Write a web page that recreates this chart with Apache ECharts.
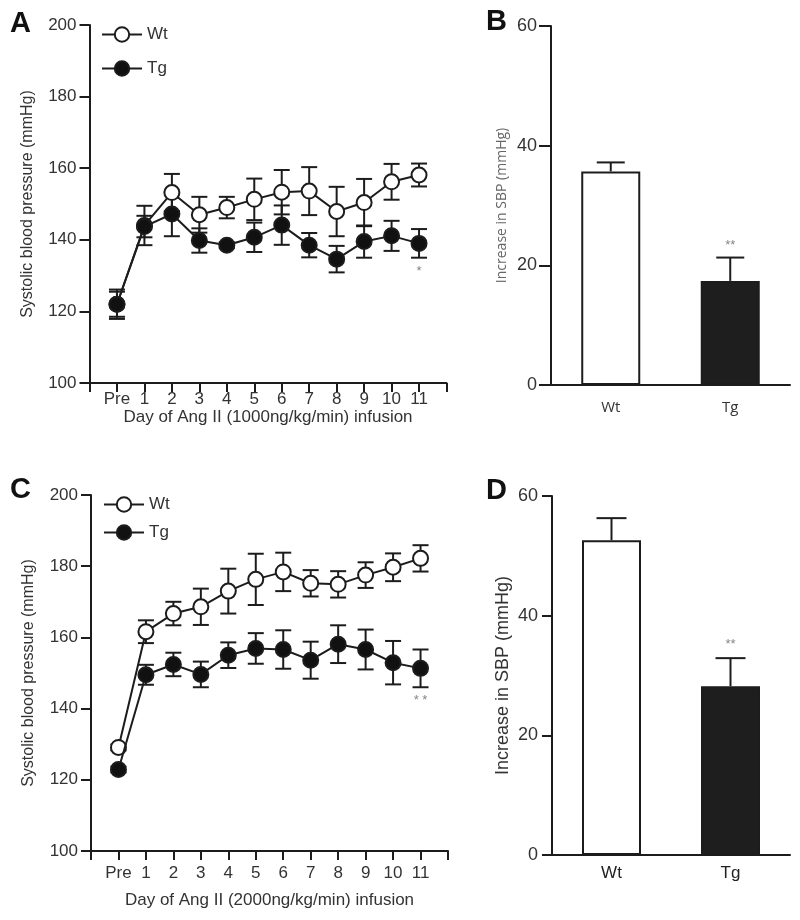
<!DOCTYPE html>
<html>
<head>
<meta charset="utf-8">
<script src="https://cdn.jsdelivr.net/npm/echarts@6/dist/echarts.min.js"></script>
<style>
html,body{margin:0;padding:0;background:#fff;}
#chart{width:800px;height:920px;}
</style>
</head>
<body>
<div id="chart"></div>
<script>
// ---- data ----
const days = ['Pre','1','2','3','4','5','6','7','8','9','10','11'];
const seriesNames = ['Wt','Tg'];

// Panel A (1000 ng/kg/min)
const wtA    = [122, 144, 153.2, 147, 149, 151.3, 153.3, 153.6, 147.9, 150.4, 156.2, 158.1];
const wtAErr = [3.5, 5.5, 5.2, 5, 3, 5.8, 6.2, 6.7, 6.9, 6.6, 5, 3.2];
const tgA    = [122, 143.7, 147.2, 139.8, 138.5, 140.7, 144.1, 138.5, 134.6, 139.5, 141.1, 139];
const tgAErr = [4.1, 3, 6.2, 3.4, 0.8, 4.1, 5.5, 3.4, 3.7, 4.5, 4.2, 4];
const starA  = [[11, 131.1, '*']];

// Panel C (2000 ng/kg/min)
const wtC    = [129.1, 161.6, 166.7, 168.6, 173, 176.3, 178.4, 175.2, 174.9, 177.5, 179.7, 182.2];
const wtCErr = [0.8, 3.2, 3.3, 5.1, 6.3, 7.2, 5.4, 3.7, 3.7, 3.6, 3.9, 3.7];
const tgC    = [122.9, 149.5, 152.4, 149.6, 155, 156.9, 156.6, 153.6, 158.1, 156.6, 152.9, 151.3];
const tgCErr = [0.8, 2.8, 3.3, 3.6, 3.6, 4.3, 5.4, 5.2, 5.3, 5.6, 6.1, 5.3];
const starC  = [[11, 142.2, '* *']];

// Panel B / D (increase in SBP)
const groups  = ['Wt','Tg'];
const incB    = [35.7, 17.4];
const incBErr = [1.5, 3.9];
const starB   = [[1, 23.4, '**']];
const incD    = [52.6, 28.2];
const incDErr = [3.7, 4.7];
const starD   = [[1, 35.2, '**']];

// ---- chart ----
const INK = '#1c1c1c';
const ARIAL = '"Liberation Sans", Arial, sans-serif';
const HUMAN = '"Open Sans", "Noto Sans", sans-serif';
const chart = echarts.init(document.getElementById('chart'), null, {renderer:'canvas'});

function pts(vals){ return vals.map((v,i)=>[i, v]); }
function errData(vals, errs){ return vals.map((v,i)=>[i, v, errs[i]]); }

function errSeries(idx, vals, errs, capW, upOnly){
  return {
    type:'custom', xAxisIndex:idx, yAxisIndex:idx, z:1, silent:true,
    data: errData(vals, errs),
    renderItem: function(params, api){
      const x = api.value(0), v = api.value(1), e = api.value(2);
      const top = api.coord([x, v + e]);
      const bot = api.coord([x, upOnly ? v : v - e]);
      const st = {stroke: INK, lineWidth: 2};
      const ch = [
        {type:'line', shape:{x1:top[0], y1:top[1], x2:bot[0], y2:bot[1]}, style:st},
        {type:'line', shape:{x1:top[0]-capW/2, y1:top[1], x2:top[0]+capW/2, y2:top[1]}, style:st}
      ];
      if(!upOnly){
        ch.push({type:'line', shape:{x1:bot[0]-capW/2, y1:bot[1], x2:bot[0]+capW/2, y2:bot[1]}, style:st});
      }
      return {type:'group', children: ch};
    }
  };
}

function lineSeries(idx, name, vals, filled){
  return {
    type:'line', name:name, xAxisIndex:idx, yAxisIndex:idx, z: filled ? 4 : 3,
    data: pts(vals), symbol:'circle', symbolSize:15, showAllSymbol:true,
    lineStyle:{color:INK, width:2},
    itemStyle:{color: filled ? '#111' : '#fff', borderColor:INK, borderWidth:2},
    emphasis:{disabled:true}
  };
}

function starSeries(idx, arr, size){
  return {
    type:'scatter', xAxisIndex:idx, yAxisIndex:idx, symbolSize:0, silent:true, z:5,
    data: arr.map(d=>({value:[d[0], d[1]], label:{formatter:d[2]}})),
    label:{show:true, position:'inside', color:'#666', fontSize:size, fontFamily:ARIAL}
  };
}

function dayXAxis(gridIdx, name, nameGap, labelMargin){
  return {
    type:'value', gridIndex:gridIdx, min:-1, max:12, interval:1,
    name:name, nameLocation:'middle', nameGap:nameGap,
    nameTextStyle:{fontSize:17, color:'#333', fontFamily:ARIAL},
    axisLine:{show:true, onZero:false, lineStyle:{color:INK, width:2}},
    axisTick:{show:true, length:9, lineStyle:{color:INK, width:2}},
    splitLine:{show:false},
    axisLabel:{color:'#333', fontSize:17, fontFamily:ARIAL, margin:labelMargin,
      formatter: v => (v >= 0 && v < days.length) ? days[v] : ''}
  };
}
function bpYAxis(gridIdx){
  return {
    type:'value', gridIndex:gridIdx, min:100, max:200, interval:20,
    name:'Systolic blood pressure (mmHg)', nameLocation:'middle', nameGap:54, nameRotate:90,
    nameTextStyle:{fontSize:16, color:'#333', fontFamily:ARIAL},
    axisLine:{show:true, onZero:false, lineStyle:{color:INK, width:2}},
    axisTick:{show:true, length:10, lineStyle:{color:INK, width:2}},
    splitLine:{show:false},
    axisLabel:{color:'#333', fontSize:17, fontFamily:ARIAL, margin:13}
  };
}

const option = {
  animation:false,
  backgroundColor:'#fff',
  grid:[
    {left:89.5, top:25, width:357, height:358},
    {left:551, top:26, width:239, height:359},
    {left:91, top:495, width:357, height:356},
    {left:552, top:496, width:238, height:359}
  ],
  legend:[
    {data:seriesNames, orient:'vertical', left:96, top:21, itemWidth:40, itemHeight:18, itemGap:17,
     textStyle:{fontSize:17, color:'#333', fontFamily:ARIAL}, selectedMode:false},
    {data:seriesNames, orient:'vertical', left:98, top:491, itemWidth:40, itemHeight:18, itemGap:11,
     textStyle:{fontSize:17, color:'#333', fontFamily:ARIAL}, selectedMode:false}
  ],
  xAxis:[
    dayXAxis(0, 'Day of Ang II (1000ng/kg/min) infusion', 25, 8),
    {type:'category', gridIndex:1, data:groups,
     axisLine:{lineStyle:{color:INK, width:2}}, axisTick:{show:false},
     axisLabel:{color:'#333', fontSize:15, fontFamily:HUMAN, margin:15}},
    dayXAxis(2, 'Day of Ang II (2000ng/kg/min) infusion', 41, 14),
    {type:'category', gridIndex:3, data:groups,
     axisLine:{lineStyle:{color:INK, width:2}}, axisTick:{show:false},
     axisLabel:{color:'#222', fontSize:17, fontFamily:ARIAL, margin:10}}
  ],
  yAxis:[
    bpYAxis(0),
    {type:'value', gridIndex:1, min:0, max:60, interval:20,
     name:'Increase in SBP (mmHg)', nameLocation:'middle', nameGap:42, nameRotate:90,
     nameTextStyle:{fontSize:14, color:'#666', fontFamily:HUMAN},
     axisLine:{show:true, lineStyle:{color:INK, width:2}},
     axisTick:{show:true, length:12, lineStyle:{color:INK, width:2}},
     splitLine:{show:false},
     axisLabel:{color:'#333', fontSize:18, fontFamily:ARIAL, margin:14}},
    bpYAxis(2),
    {type:'value', gridIndex:3, min:0, max:60, interval:20,
     name:'Increase in SBP (mmHg)', nameLocation:'middle', nameGap:40, nameRotate:90,
     nameTextStyle:{fontSize:18, color:'#333', fontFamily:ARIAL},
     axisLine:{show:true, lineStyle:{color:INK, width:2}},
     axisTick:{show:true, length:10, lineStyle:{color:INK, width:2}},
     splitLine:{show:false},
     axisLabel:{color:'#333', fontSize:18, fontFamily:ARIAL, margin:14}}
  ],
  series:[
    // Panel A
    errSeries(0, wtA, wtAErr, 16, false),
    errSeries(0, tgA, tgAErr, 16, false),
    lineSeries(0, 'Wt', wtA, false),
    lineSeries(0, 'Tg', tgA, true),
    starSeries(0, starA, 13),
    // Panel B
    {type:'bar', xAxisIndex:1, yAxisIndex:1, barWidth:59, z:2, silent:true,
     data: incB.map((v,i)=>({value:v, itemStyle: i===0
        ? {color:'#fff', borderColor:INK, borderWidth:2}
        : {color:'#1e1e1e', borderColor:INK, borderWidth:2}}))},
    errSeries(1, incB, incBErr, 28, true),
    starSeries(1, starB, 13),
    // Panel C
    errSeries(2, wtC, wtCErr, 16, false),
    errSeries(2, tgC, tgCErr, 16, false),
    lineSeries(2, 'Wt', wtC, false),
    lineSeries(2, 'Tg', tgC, true),
    starSeries(2, starC, 13),
    // Panel D
    {type:'bar', xAxisIndex:3, yAxisIndex:3, barWidth:59, z:2, silent:true,
     data: incD.map((v,i)=>({value:v, itemStyle: i===0
        ? {color:'#fff', borderColor:INK, borderWidth:2}
        : {color:'#1e1e1e', borderColor:INK, borderWidth:2}}))},
    errSeries(3, incD, incDErr, 30, true),
    starSeries(3, starD, 13)
  ],
  graphic:[
    {type:'text', left:10, top:9, style:{text:'A', font:'bold 29px "Liberation Sans", Arial', fill:'#111'}},
    {type:'text', left:486, top:7, style:{text:'B', font:'bold 29px "Liberation Sans", Arial', fill:'#111'}},
    {type:'text', left:10, top:475, style:{text:'C', font:'bold 29px "Liberation Sans", Arial', fill:'#111'}},
    {type:'text', left:486, top:476, style:{text:'D', font:'bold 29px "Liberation Sans", Arial', fill:'#111'}}
  ]
};
chart.setOption(option);
</script>
</body>
</html>
